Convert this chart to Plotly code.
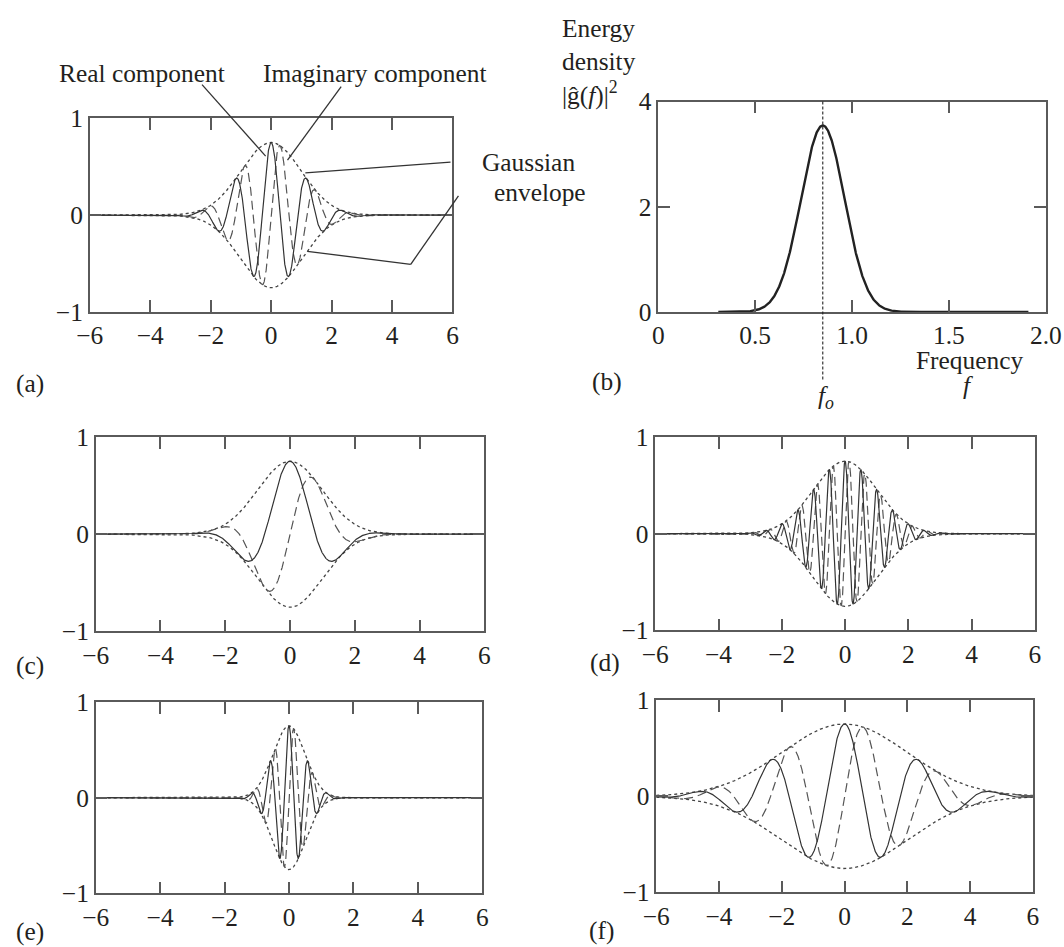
import numpy as np
import plotly.graph_objects as go

# ---------------- data ----------------
# Morlet wavelet parameters for the five time-domain panels
panel_names = ["a", "c", "d", "e", "f"]
centre_freqs = [0.849, 0.32, 2.0, 0.849, 0.849]   # f0 of each panel
dilations = [1.0, 1.0, 1.0, 0.5, 2.0]             # scale a of each panel
peak_amplitude = 0.751                            # height of envelope at t = 0
time_span = [-6.0, 6.0]

# energy spectrum of panel (b)
spec_f0 = 0.849
spec_peak = 3.545
spec_span = [0.31, 1.91]

x_ticks_time = [-6, -4, -2, 0, 2, 4, 6]
y_ticks_time = [-1, 0, 1]
x_ticks_freq = [0, 0.5, 1.0, 1.5, 2.0]
x_ticktext_freq = ["0", "0.5", "1.0", "1.5", "2.0"]
y_ticks_freq = [0, 2, 4]

# ---------------- layout geometry ----------------
PAGE_MARGIN = 8          # default body margin of the html page
ZOOM = 0.978             # observed page -> photo scale
W, H = 1073, 953

def px(x):
    return (x / ZOOM - PAGE_MARGIN) / W

def py(y):
    return 1 - (y / ZOOM - PAGE_MARGIN) / H

boxes = {  # left, right, top, bottom in photo pixels
    "a": (84, 449, 113, 308),
    "b": (656, 1046, 96, 308),
    "c": (90, 481, 434, 630),
    "d": (653, 1035, 434, 629),
    "e": (90, 479, 701, 894),
    "f": (654, 1033, 699, 893),
}
order = ["a", "b", "c", "d", "e", "f"]
FONT = "Liberation Serif"
FS = 25.4
INK = "#231f20"
AX = "#5a5a5a"

fig = go.Figure()

t = np.linspace(time_span[0], time_span[1], 2401)

def axis_ids(p):
    i = order.index(p) + 1
    return ("x" if i == 1 else f"x{i}"), ("y" if i == 1 else f"y{i}")

for name, f0, a in zip(panel_names, centre_freqs, dilations):
    xa, ya = axis_ids(name)
    u = t / a
    env = peak_amplitude * np.exp(-u ** 2 / 2)
    real = env * np.cos(2 * np.pi * f0 * u)
    imag = env * np.sin(2 * np.pi * f0 * u)
    fig.add_trace(go.Scatter(x=t, y=env, xaxis=xa, yaxis=ya, mode="lines",
                             line=dict(color="#444", width=1.3, dash="dot"), hoverinfo="skip"))
    fig.add_trace(go.Scatter(x=t, y=-env, xaxis=xa, yaxis=ya, mode="lines",
                             line=dict(color="#444", width=1.3, dash="dot"), hoverinfo="skip"))
    fig.add_trace(go.Scatter(x=t, y=imag, xaxis=xa, yaxis=ya, mode="lines",
                             line=dict(color="#555", width=1.2, dash="9px,5px"), hoverinfo="skip"))
    fig.add_trace(go.Scatter(x=t, y=real, xaxis=xa, yaxis=ya, mode="lines",
                             line=dict(color="#333", width=1.2), hoverinfo="skip"))

# spectrum
fs = np.linspace(spec_span[0], spec_span[1], 800)
spec = spec_peak * np.exp(-(2 * np.pi * (fs - spec_f0)) ** 2)
xb, yb = axis_ids("b")
fig.add_trace(go.Scatter(x=fs, y=spec, xaxis=xb, yaxis=yb, mode="lines",
                         line=dict(color="#222", width=2.4), hoverinfo="skip"))

layout = dict(width=W, height=H, margin=dict(l=0, r=0, t=0, b=0),
              paper_bgcolor="white", plot_bgcolor="white", showlegend=False,
              font=dict(family=FONT, size=FS, color=INK))

common = dict(showline=True, linecolor=AX, linewidth=1.5, mirror="ticks",
              ticks="inside", ticklen=12, tickwidth=1.5, tickcolor=AX,
              showgrid=False, zeroline=False,
              tickfont=dict(family=FONT, size=FS, color=INK))

for i, p in enumerate(order, start=1):
    l, r, tp, bt = boxes[p]
    xk = "xaxis" if i == 1 else f"xaxis{i}"
    yk = "yaxis" if i == 1 else f"yaxis{i}"
    yref = "y" if i == 1 else f"y{i}"
    xref = "x" if i == 1 else f"x{i}"
    if p == "b":
        layout[xk] = dict(domain=[px(l), px(r)], range=[0, 2.0], anchor=yref,
                          tickvals=x_ticks_freq, ticktext=x_ticktext_freq, **common)
        layout[yk] = dict(domain=[py(bt), py(tp)], range=[0, 4], anchor=xref,
                          tickvals=y_ticks_freq, **common)
    else:
        layout[xk] = dict(domain=[px(l), px(r)], range=time_span, anchor=yref,
                          tickvals=x_ticks_time, **common)
        layout[yk] = dict(domain=[py(bt), py(tp)], range=[-1, 1], anchor=xref,
                          tickvals=y_ticks_time, **common)

fig.update_layout(**layout)

def ann(text, x, y, xanchor="center", size=FS, **kw):
    fig.add_annotation(text=text, x=px(x), y=py(y), xref="paper", yref="paper",
                       xanchor=xanchor, yanchor="middle", showarrow=False,
                       font=dict(family=FONT, size=size, color=INK), **kw)

# panel letters
letters = {"a": (8, 380), "b": (587, 378), "c": (8, 664), "d": (585, 661),
           "e": (8, 932), "f": (584, 931)}
for p, (x, y) in letters.items():
    ann(f"({p})", x, y, xanchor="left")

# panel (a) labels
ann("Real component", 137, 67)
ann("Imaginary component", 371, 67)
ann("Gaussian", 525, 157)
ann("envelope", 537, 187)

leader = dict(type="line", xref="paper", yref="paper",
              line=dict(color="#333", width=1.3))
def seg(x0, y0, x1, y1):
    fig.add_shape(x0=px(x0), y0=py(y0), x1=px(x1), y1=py(y1), **leader)

seg(197, 79, 261, 151)
seg(337, 81, 283, 155)
seg(447, 157, 301, 168)
seg(455, 191, 407, 260)
seg(407, 260, 303, 247)

# panel (b) labels
ann("Energy", 557, 22, xanchor="left")
ann("density", 557, 55, xanchor="left")
ann("|ĝ(<i>f</i>)|<sup>2</sup>", 557, 88, xanchor="left")
ann("Frequency", 969, 356)
ann("<i>f</i>", 968, 382)
ann("<i>f<sub>o</sub></i>", 825, 394)

# dashed centre-frequency marker
fig.add_shape(type="line", xref=xb, yref="paper", x0=spec_f0, x1=spec_f0,
              y0=py(376), y1=py(96),
              line=dict(color="#222", width=1.1, dash="3px,2px"))

fig.write_html("out.html")
